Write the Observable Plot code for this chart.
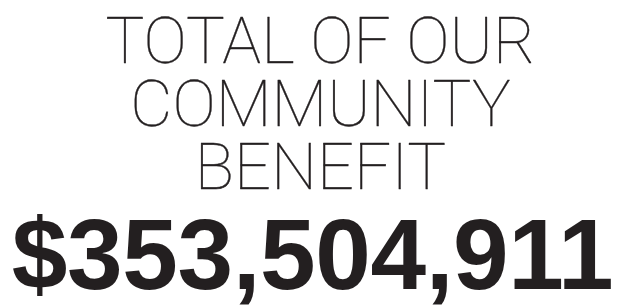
<!DOCTYPE html>
<html><head><meta charset="utf-8">
<script src="https://cdn.jsdelivr.net/npm/d3@7"></script>
<script src="https://cdn.jsdelivr.net/npm/@observablehq/plot@0.6"></script>
<style>body{margin:0;background:#fff}</style>
</head><body><div id="chart"></div>
<script>
// Data
const headingLines = ["TOTAL OF OUR", "COMMUNITY", "BENEFIT"];
const totalValue = [353504911];
const totalLabels = totalValue.map(v => "$" + d3.format(",")(v));

const ink = "#231f20";
const chart = Plot.plot({
  width: 618,
  height: 305,
  margin: 0,
  x: {axis: null},
  y: {axis: null, type: "point", domain: headingLines, range: [61, 188], padding: 0},
  style: {background: "#fff"},
  marks: [
    Plot.text(headingLines, {
      y: d => d,
      text: d => d,
      frameAnchor: "middle",
      textAnchor: "middle",
      lineAnchor: "bottom",
      dx: 11,
      fontFamily: "Roboto",
      fontWeight: 100,
      fontSize: 65,
      fill: ink,
      stroke: ink,
      strokeWidth: 0.35
    }),
    Plot.text(totalLabels, {
      text: d => d,
      frameAnchor: "bottom",
      textAnchor: "middle",
      lineAnchor: "bottom",
      dx: 3,
      dy: -17,
      fontFamily: "Liberation Sans",
      fontWeight: 700,
      fontSize: 100,
      fill: ink
    })
  ]
});
chart.querySelectorAll("text").forEach(t => {
  if (t.textContent.startsWith("$")) t.style.letterSpacing = "-0.4px";
});
document.getElementById("chart").appendChild(chart);
</script></body></html>
